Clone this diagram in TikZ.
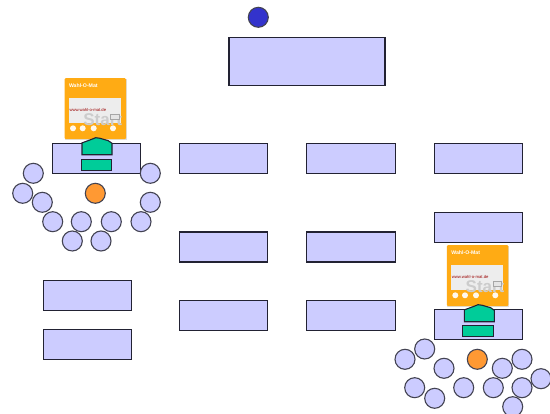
\documentclass[tikz,border=0pt]{standalone}
\usepackage{fontspec}
\setmainfont{Liberation Sans}
\definecolor{lav}{HTML}{CCCCFF}
\definecolor{edge}{HTML}{222233}
\definecolor{mint}{HTML}{00CC99}
\definecolor{amber}{HTML}{FFAB14}
\definecolor{tang}{HTML}{FF9933}
\definecolor{royal}{HTML}{3333CC}
\tikzset{
  desk/.style={draw=edge,fill=lav,line width=1.1pt,minimum width=88.5pt,minimum height=30pt,inner sep=0pt,rectangle},
  seat/.style={circle,draw=edge!85!white,fill=lav,line width=1.1pt,minimum size=20pt,inner sep=0pt},
  lead/.style={seat,fill=tang},
  chair/.style={seat,fill=royal},
  greenbox/.style={draw=edge,fill=mint,line width=1.1pt,rectangle,minimum width=29.5pt,minimum height=11pt,inner sep=0pt},
  pics/wahl/.style={code={
    \fill[black!12] (0.6,0.6) rectangle (62.4,61.8);
    \node[fill=amber,rounded corners=1.2pt,minimum width=61.6pt,minimum height=61pt,inner sep=0pt,anchor=north west] (-body) at (0,0) {};
    \node[anchor=west,text=white,inner sep=0pt,font=\bfseries\fontsize{5.2}{6}\selectfont] (-title) at (4.5,7.5) {Wahl-O-Mat};
    \fill[white!93!black] (4.7,20) rectangle (56.4,44.7);
    \node[anchor=east,text=black!20,inner sep=0pt,font=\bfseries\fontsize{17}{17}\selectfont] (-start) at (58,41.5) {Start};
    \node[anchor=west,text=red!60!black,inner sep=0pt,font=\fontsize{4.2}{5}\selectfont] (-url) at (5,32) {www.wahl-o-mat.de};
    \fill[white!90!black,draw=black!35,line width=.2pt] (46,36.5) rectangle (54.5,41.5);
    \foreach \bx in {8.7,18.4,29.4,48.7}{\fill[white!92!amber] (\bx,50.3) circle (3pt);}
    \path[draw=edge,fill=mint,line width=1.1pt] (17.7,76.8) -- (17.7,64.9) -- (27.4,61.3) -- (31.4,59.7) -- (35.7,60.3) -- (44,62.7) -- (47.7,65.3) -- (47.7,76.8) -- cycle;
  }}
}
\begin{document}
\begin{tikzpicture}[x=1pt,y=-1pt]
\useasboundingbox (0,0) rectangle (550,414);
\node[chair] (c0) at (258.3,17.3) {};
\node[desk,minimum width=156pt,minimum height=48pt] (top) at (307,61.3) {};
\node[desk] (l1) at (96.3,158.5) {};
\node[desk] (a1) at (223.5,158.5) {};
\node[desk] (b1) at (351,158.5) {};
\node[desk] (d1) at (478.3,158.5) {};
\node[desk] (a2) at (223.5,247) {};
\node[desk] (b2) at (351,247) {};
\node[desk] (d2) at (478.3,227.3) {};
\node[desk] (a3) at (223.5,315.5) {};
\node[desk] (b3) at (351,315.5) {};
\node[desk] (d3) at (478.3,324.3) {};
\node[desk] (e1) at (87.3,295.8) {};
\node[desk] (e2) at (87.3,344.8) {};
\pic (wl) at (64.3,78) {wahl};
\pic (wr) at (446.6,245) {wahl};
\node[greenbox] (gl) at (96.5,164.9) {};
\node[greenbox,minimum width=30.5pt] (gr) at (478,330.9) {};
\foreach \n/\x/\y in {s1/33.3/173.3,s2/22.7/193.3,s3/42.3/202.3,s4/52.7/221.7,s5/81.3/221.7,s6/111.3/221.7,s7/141/221.7,s8/72.3/241,s9/101/241,s10/150.3/173.3,s11/150.3/202.3,
 t1/405/359.3,t2/424.7/349,t3/444/368.3,t4/414.7/387.7,t5/434.7/398.3,t6/463.7/387.7,t7/493.3/387.7,t8/502.3/368.3,t9/522/359.3,t10/541/378.7,t11/522/387.7,t12/512.7/406.7}
  {\node[seat] (\n) at (\x,\y) {};}
\node[lead] (p1) at (95.3,193.3) {};
\node[lead] (p2) at (477.3,359.3) {};
\end{tikzpicture}
\end{document}
